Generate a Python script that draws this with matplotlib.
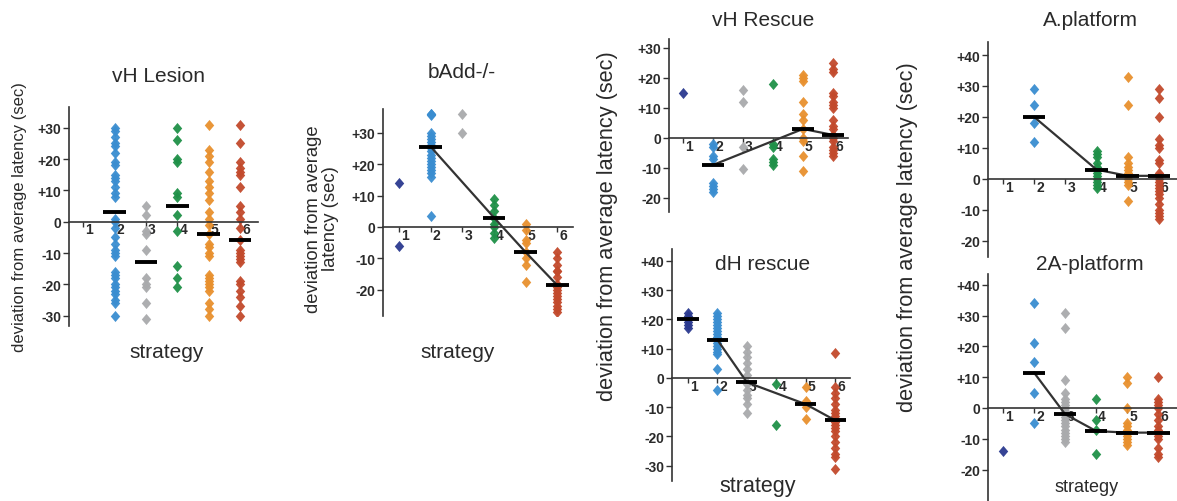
import numpy as np
import matplotlib
matplotlib.use("Agg")
import matplotlib.pyplot as plt
import matplotlib.transforms as mtransforms
from matplotlib.ticker import FuncFormatter

plt.rcParams['font.family'] = ['Liberation Sans', 'DejaVu Sans']

W, H = 1177, 502
TXT = "#2a2a2a"
# colour per strategy 1..6
strategy_colors = ["#2B3A8F", "#3A8DD0", "#A9AAAC", "#1F9048", "#E8902E", "#C24A2C"]
strategies = [1, 2, 3, 4, 5, 6]

# ---- vH Lesion ----
vhl_pts = [
    [],
    [30, 29, 27, 25, 24, 22, 19, 18, 15, 14, 13, 11, 9, 8, 1, 0, -2, -5, -7, -9, -10, -11,
     -16, -17, -18, -20, -21, -22, -23, -25, -26, -30],
    [5, 2, -3, -4, -9, -18, -20, -21, -26, -31],
    [30, 26, 20, 19, 9, 8, 2, -3, -14, -18, -21],
    [31, 23, 21, 19, 16, 13, 11, 9, 7, 3, 1, -1, -4, -7, -8, -10, -11, -17, -18, -19, -20,
     -21, -22, -26, -28, -30],
    [31, 25, 19, 17, 16, 15, 11, 5, 3, 1, -2, -6, -9, -10, -11, -12, -13, -19, -20, -22,
     -24, -27, -30],
]
vhl_means = [None, 3, -13, 5, -4, -6]
vhl_line = []

# ---- bAdd-/- ----
badd_pts = [
    [14, -6],
    [36, 36, 35.5, 30, 29, 28, 27, 26, 25, 24, 23, 22, 21, 20, 19, 18, 17, 16, 3.5],
    [36, 30],
    [9, 7, 5, 3, 1, 0, -2, -3.5],
    [1, -1, -4, -5, -8, -10, -12, -17.5],
    [-8, -10, -12, -14, -14, -16, -18, -19, -20, -21, -22, -23, -24, -25, -26, -27],
]
badd_means = [None, 25.5, None, 3, -8, -18.5]
badd_line = [2, 4, 5, 6]

# ---- vH Rescue ----
vhr_pts = [
    [15],
    [-2, -3, -6, -7, -15, -16, -17, -18],
    [16, 12, -3, -10.5],
    [18, -2, -3, -7, -8, -9],
    [21, 20, 19, 12, 8, 6, 3, 0, -1, -6, -11],
    [25, 23, 22, 15, 14, 12, 11, 10, 6, 4, 3, 1, 0, -1, -3, -4, -5, -6],
]
vhr_means = [None, -9, None, None, 3, 1]
vhr_line = [2, 5, 6]

# ---- dH rescue ----
dhr_pts = [
    [22, 21, 20, 19, 18, 17],
    [22, 21, 20, 19, 18, 17, 16, 15, 14, 13, 12, 11, 10, 9, 8, 3, -4],
    [11, 9, 7, 5, 3, 1, -2, -4, -6, -7, -9, -12],
    [-2, -16],
    [-3, -8, -10, -14],
    [8.5, -3, -5, -7, -9, -11, -12, -13, -14, -15, -16, -17, -18, -20, -22, -24, -26, -27, -31],
]
dhr_means = [20, 13, -1.5, None, -9, -14.5]
dhr_line = [2, 3, 5, 6]

# ---- A.platform ----
apf_pts = [
    [],
    [29, 24, 18, 12],
    [],
    [9, 8, 7, 5, 4, 3, 2, 1, 0, -1, -2, -3],
    [33, 24, 7, 5, 4, 3, 2, 1, 0, -1, -2, -7],
    [29, 26, 20, 13, 11, 10, 6, 5, 2, 1, 0, -1, -2, -3, -4, -5, -6, -8, -10, -11, -12, -13],
]
apf_means = [None, 20, None, 3, 1, 1]
apf_line = [2, 4, 5, 6]

# ---- 2A-platform ----
a2p_pts = [
    [-14],
    [34, 21, 15, 5, -5],
    [31, 26, 9, 5, 3, 2, 1, 0, -1, -2, -3, -4, -5, -6, -7, -8, -9, -10, -11],
    [3, -4, -7, -15],
    [10, 8, 0, -5, -6, -7, -8, -9, -10, -11, -12],
    [10, 3, 2, 1, 0, -2, -4, -6, -7, -8, -9, -10, -13, -15, -16],
]
a2p_means = [None, 11.5, -2, -7.5, -8, -8]
a2p_line = [2, 3, 4, 5, 6]

DIAMOND = [(0, 1), (0.85, 0), (0, -1), (-0.85, 0), (0, 1)]

fig = plt.figure(figsize=(W / 100, H / 100), dpi=100)


def px(x, y):
    return x / W, 1 - y / H


def panel(box, xlim, ylim, yticks, pts, means, line):
    left, right, top, bottom = box
    ax = fig.add_axes([left / W, 1 - bottom / H, (right - left) / W, (bottom - top) / H])
    for s, vals, col in zip(strategies, pts, strategy_colors):
        if vals:
            ax.plot([s] * len(vals), vals, linestyle="none", marker=DIAMOND, ms=8,
                    mfc=col, mec=col, mew=0, alpha=0.95, zorder=2)
    if line:
        ax.plot(line, [means[s - 1] for s in line], color="#333333", lw=1.6, zorder=3)
    for s, m in zip(strategies, means):
        if m is not None:
            ax.hlines(m, s - 0.36, s + 0.36, color="black", lw=2.8, zorder=4)
    ax.set_xlim(*xlim)
    ax.set_ylim(*ylim)
    for sp in ("top", "right"):
        ax.spines[sp].set_visible(False)
    ax.spines["bottom"].set_position(("data", 0))
    for sp in ("left", "bottom"):
        ax.spines[sp].set_color("#333333")
        ax.spines[sp].set_linewidth(1.2)
    ax.set_yticks(yticks)
    ax.yaxis.set_major_formatter(FuncFormatter(lambda v, p: "0" if v == 0 else ("+%d" % v if v > 0 else "%d" % v)))
    ax.set_xticks(strategies)
    ax.set_xticklabels([str(s) for s in strategies])
    ax.tick_params(axis="y", length=4, width=1, color="#333333", labelsize=10, labelcolor=TXT, pad=1.5)
    ax.tick_params(axis="x", length=3.5, width=1, color="#333333", labelsize=10, labelcolor=TXT, pad=-3)
    for lab in ax.get_yticklabels():
        lab.set_fontweight("bold")
    off = mtransforms.ScaledTranslation(2 / 100, 0, fig.dpi_scale_trans)
    for lab in ax.get_xticklabels():
        lab.set_horizontalalignment("left")
        lab.set_fontweight("bold")
        lab.set_transform(lab.get_transform() + off)
    ax.patch.set_alpha(0)
    return ax


panel((69, 258, 108, 327), (0.55, 6.57), (-33.3, 36.6), range(-30, 31, 10), vhl_pts, vhl_means, vhl_line)
panel((383, 573, 110, 317), (0.49, 6.5), (-28.3, 37.5), range(-20, 31, 10), badd_pts, badd_means, badd_line)
panel((669, 848, 40, 213), (0.53, 6.5), (-24.7, 33), range(-20, 31, 10), vhr_pts, vhr_means, vhr_line)
panel((672, 850, 250, 482), (0.46, 6.5), (-35.2, 44), range(-30, 41, 10), dhr_pts, dhr_means, dhr_line)
panel((988, 1177, 43, 258), (0.52, 6.58), (-25.2, 44.2), range(-20, 41, 10), apf_pts, apf_means, apf_line)
panel((988, 1177, 275, 502), (0.52, 6.6), (-30.2, 43.5), range(-20, 41, 10), a2p_pts, a2p_means, a2p_line)

# titles
titles = ["vH Lesion", "bAdd-/-", "vH Rescue", "dH rescue", "A.platform", "2A-platform"]
title_pos = [(158, 77), (462, 73), (763, 20), (763, 265), (1090, 20), (1090, 265)]
for t, (x, y) in zip(titles, title_pos):
    fig.text(*px(x, y), t, ha="center", va="center", fontsize=15, color=TXT)

# x labels
for (x, y, fs) in [(167, 353, 15), (458, 352, 15), (758, 487, 15.5), (1087, 488, 13)]:
    fig.text(*px(x, y), "strategy", ha="center", va="center", fontsize=fs, color=TXT)

# y labels
ylab = "deviation from average latency (sec)"
fig.text(*px(20, 217), ylab, rotation=90, ha="center", va="center", fontsize=12, color=TXT)
fig.text(*px(322, 219), "deviation from average\nlatency (sec)", rotation=90, ha="center",
         va="center", fontsize=13.3, color=TXT, linespacing=1.05, multialignment="center")
fig.text(*px(608, 226), ylab, rotation=90, ha="center", va="center", fontsize=15.7, color=TXT)
fig.text(*px(908, 237), ylab, rotation=90, ha="center", va="center", fontsize=15.7, color=TXT)

fig.savefig("out.png", dpi=100)
